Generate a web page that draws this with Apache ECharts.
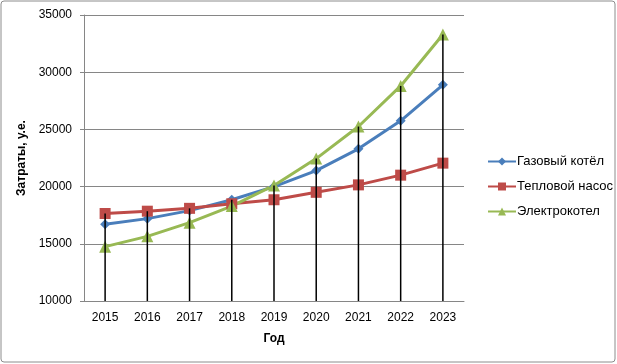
<!DOCTYPE html>
<html>
<head>
<meta charset="utf-8">
<script src="https://cdn.jsdelivr.net/npm/echarts@6/dist/echarts.min.js"></script>
<style>
  html, body { margin: 0; padding: 0; background: #fff; }
  #chart { width: 617px; height: 364px; }
</style>
</head>
<body>
<div id="chart"></div>
<script>
const years = ['2015', '2016', '2017', '2018', '2019', '2020', '2021', '2022', '2023']
const gasBoiler = [16700, 17200, 17900, 18850, 20000, 21400, 23300, 25750, 28900]
const heatPump = [17650, 17850, 18100, 18500, 18850, 19500, 20150, 21000, 22050]
const electroBoiler = [14750, 15650, 16850, 18300, 20100, 22450, 25250, 28800, 33300]
const seriesNames = ['Газовый котёл', 'Тепловой насос', 'Электрокотел']

// drop lines go up to the highest point in each year
const dropTop = years.map((y, i) => Math.max(gasBoiler[i], heatPump[i], electroBoiler[i]))

const font = 'Liberation Sans'
let myChart = echarts.init(document.getElementById('chart'))
let option = {
    animation: false,
    textStyle: { fontFamily: font },
    graphic: [{
        type: 'rect',
        shape: { x: 1, y: 1, width: 614, height: 361, r: 3 },
        style: { fill: 'none', stroke: '#8c8c8c', lineWidth: 1 }
    }],
    grid: { left: 84, right: 153, top: 15, bottom: 63 },
    legend: {
        data: seriesNames,
        orient: 'vertical',
        left: 482,
        top: 150,
        itemWidth: 28,
        itemHeight: 10,
        itemGap: 12,
        textStyle: { fontFamily: font, fontSize: 13, color: '#000', padding: [0, 0, 0, -4] }
    },
    xAxis: {
        type: 'category',
        data: years,
        name: 'Год',
        nameLocation: 'middle',
        nameGap: 32,
        nameTextStyle: { fontWeight: 'bold', fontSize: 12, color: '#000' },
        axisLine: { lineStyle: { color: '#868686', width: 1 } },
        axisTick: { show: false },
        axisLabel: { color: '#000', fontSize: 12, margin: 11 }
    },
    yAxis: {
        type: 'value',
        min: 10000,
        max: 35000,
        interval: 5000,
        name: 'Затраты, у.е.',
        nameLocation: 'middle',
        nameGap: 47,
        nameTextStyle: { fontWeight: 'bold', fontSize: 12, color: '#000' },
        axisLine: { show: true, lineStyle: { color: '#868686', width: 1 } },
        axisTick: { show: true, length: 4, lineStyle: { color: '#868686' } },
        axisLabel: { color: '#000', fontSize: 12, margin: 12, formatter: v => String(v) },
        splitLine: { lineStyle: { color: '#868686', width: 1 } }
    },
    series: [
        {
            name: seriesNames[0], type: 'line', data: gasBoiler,
            symbol: 'diamond', symbolSize: 10,
            lineStyle: { width: 3, color: '#4a7ebb' },
            itemStyle: { color: '#4a7ebb' }, z: 3
        },
        {
            name: seriesNames[1], type: 'line', data: heatPump,
            symbol: 'rect', symbolSize: 11,
            lineStyle: { width: 3, color: '#be4b48' },
            itemStyle: { color: '#be4b48' }, z: 3
        },
        {
            name: seriesNames[2], type: 'line', data: electroBoiler,
            symbol: 'triangle', symbolSize: 12,
            lineStyle: { width: 3, color: '#98b954' },
            itemStyle: { color: '#98b954' }, z: 3
        },
        {
            name: 'drop', type: 'bar', data: dropTop,
            barWidth: 1.5, itemStyle: { color: '#000' }, z: 4,
            silent: true
        }
    ]
}
myChart.setOption(option)
window.addEventListener('resize', function() {
    myChart.resize()
})
</script>
</body>
</html>
